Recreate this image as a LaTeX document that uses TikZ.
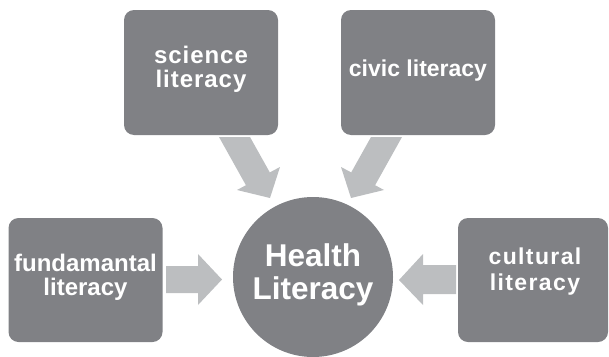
\documentclass[tikz,border=0pt]{standalone}
\usepackage{fontspec}
\setmainfont{Liberation Sans}
\definecolor{boxgray}{RGB}{128,129,133}
\definecolor{arrowgray}{RGB}{188,190,192}
\begin{document}
\begin{tikzpicture}[x=1pt,y=-1pt,
  box/.style={fill=boxgray, draw=none, rounded corners=10pt, minimum width=154pt, minimum height=125pt, inner sep=0pt},
  hub/.style={fill=boxgray, circle, minimum size=160pt, inner sep=0pt},
  blockarrow/.style={fill=arrowgray, draw=none},
  lbl/.style={text=white, anchor=base, inner sep=0pt},
]
\useasboundingbox (0,0) rectangle (609,356);
% boxes
\node[box] (sci) at (201,72.5) {};
\node[box] (civ) at (418,72.5) {};
\node[box, minimum height=124pt] (fun) at (85.5,280) {};
\node[box, minimum width=150pt, minimum height=124pt] (cul) at (533,280) {};
\node[hub] (hl) at (313,277) {};
% block arrows
\fill[blockarrow] (166,266) -- (198,266) -- (198,254) -- (222,279.5) -- (198,305) -- (198,293) -- (166,293) -- cycle;
\fill[blockarrow] (456,265) -- (423,265) -- (423,254) -- (399,280) -- (423,305) -- (423,294) -- (456,294) -- cycle;
\fill[blockarrow] (219,137) -- (250,137) -- (269.8,172.4) -- (280,167) -- (270,198) -- (237,190) -- (245.9,185.2) -- cycle;
\fill[blockarrow] (402,137) -- (371,137) -- (351.2,172.4) -- (341,167) -- (351,198) -- (384,190) -- (375.1,185.2) -- cycle;
% labels
\begin{scope}[every node/.style={lbl}]
\node[font={\fontsize{24}{24}\selectfont\bfseries\addfontfeature{LetterSpace=4}}] (t1a) at (201,63) {science};
\node[font={\fontsize{24}{24}\selectfont\bfseries\addfontfeature{LetterSpace=4}}] (t1b) at (201,87) {literacy};
\node[font={\fontsize{23}{23}\selectfont\bfseries}] (t2) at (418,76) {civic literacy};
\node[font={\fontsize{24}{24}\selectfont\bfseries}] (t3a) at (85.5,271) {fundamantal};
\node[font={\fontsize{24}{24}\selectfont\bfseries}] (t3b) at (85.5,295) {literacy};
\node[font={\fontsize{23}{23}\selectfont\bfseries\addfontfeature{LetterSpace=6}}] (t4a) at (535,264) {cultural};
\node[font={\fontsize{23}{23}\selectfont\bfseries\addfontfeature{LetterSpace=6}}] (t4b) at (535,290) {literacy};
\node[font={\fontsize{31.5}{31.5}\selectfont\bfseries}] (t5a) at (313,266) {Health};
\node[font={\fontsize{31.5}{31.5}\selectfont\bfseries}] (t5b) at (313,299) {Literacy};
\end{scope}
\end{tikzpicture}
\end{document}
